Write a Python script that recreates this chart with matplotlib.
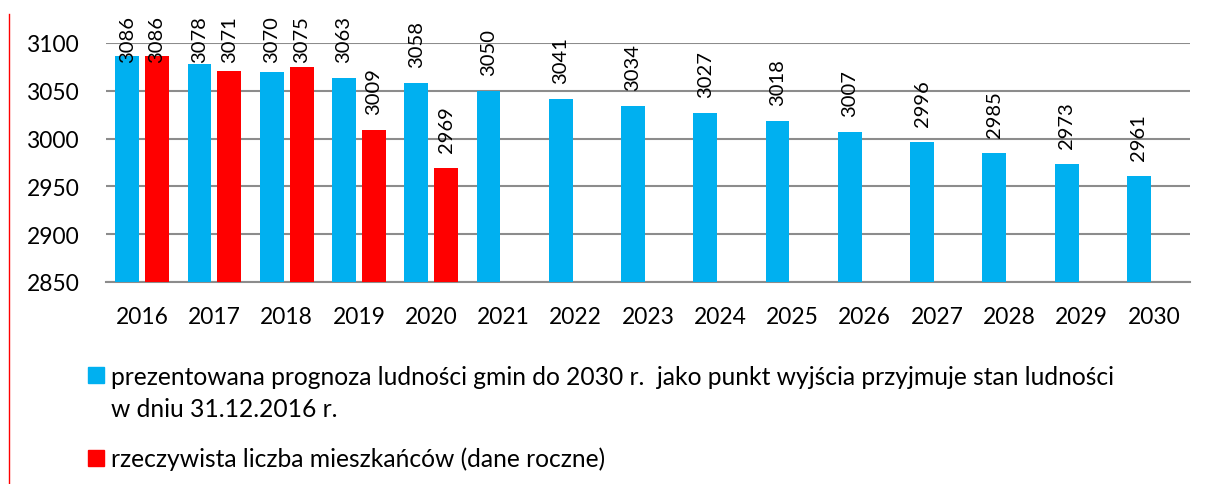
import matplotlib.pyplot as plt
import numpy as np
from matplotlib.patches import Rectangle
from matplotlib.lines import Line2D

plt.rcParams['font.family'] = ['Lato', 'DejaVu Sans']

years = [2016, 2017, 2018, 2019, 2020, 2021, 2022, 2023,
         2024, 2025, 2026, 2027, 2028, 2029, 2030]
prognoza = [3086, 3078, 3070, 3063, 3058, 3050, 3041, 3034,
            3027, 3018, 3007, 2996, 2985, 2973, 2961]
rzeczywista = [3086, 3071, 3075, 3009, 2969]
legend_labels = [
    "prezentowana prognoza ludności gmin do 2030 r.  jako punkt wyjścia przyjmuje stan ludności\nw dniu 31.12.2016 r.",
    "rzeczywista liczba mieszkańców (dane roczne)",
]
blue = "#00B0F0"
red = "#FF0000"

W, H = 1206, 485
fig = plt.figure(figsize=(W / 100, H / 100), dpi=100)
ax = fig.add_axes([106 / W, 1 - 283 / H, 1084 / W, 239 / H])

x = np.arange(len(years))
w = 0.33
off = 0.207
ax.bar(x - off, prognoza, width=w, color=blue, zorder=3)
xr = x[:len(rzeczywista)]
ax.bar(xr + off, rzeczywista, width=w, color=red, zorder=3)

# labels sit ~16 px above the bar, but never higher than the top of the chart area
gap = 16.7
top_lim = 3080
for xs, vals in [(x - off, prognoza), (xr + off, rzeczywista)]:
    for xi, v in zip(xs, vals):
        ax.text(xi, min(v + gap, top_lim), str(v), rotation=90, ha='center',
                va='bottom', fontsize=14.5, clip_on=False,
                family=['Liberation Sans Narrow', 'Lato'])

ax.set_ylim(2850, 3100)
ax.set_xlim(-0.5, len(years) - 0.5)
ax.set_yticks(np.arange(2850, 3101, 50))
ax.set_xticks(x)
ax.set_xticklabels([str(y) for y in years])
ax.tick_params(axis='both', length=0, labelsize=16.4)
ax.tick_params(axis='x', pad=17)
ax.tick_params(axis='y', pad=19)
ax.yaxis.grid(True, color='#8c8c8c', linewidth=1.5, zorder=0)
ax.set_axisbelow(True)
for s in ['top', 'right', 'left']:
    ax.spines[s].set_visible(False)
ax.spines['bottom'].set_color('#8c8c8c')
ax.spines['bottom'].set_linewidth(1.5)

# legend drawn below the plot, one text line per baseline
items = [(legend_labels[0], blue, 368, [385, 417]),
         (legend_labels[1], red, 451, [467])]
for lab, col, sq_top, baselines in items:
    fig.patches.append(Rectangle((88 / W, 1 - (sq_top + 16) / H), 16 / W, 16 / H,
                                 transform=fig.transFigure, color=col))
    for line, yb in zip(lab.split("\n"), baselines):
        fig.text(111 / W, 1 - yb / H, line, fontsize=17.7, va='baseline', ha='left')

fig.lines.append(Line2D([9 / W, 9 / W], [0, 1 - 15 / H], transform=fig.transFigure,
                        color=red, linewidth=1))

fig.savefig("out.png", dpi=100)
